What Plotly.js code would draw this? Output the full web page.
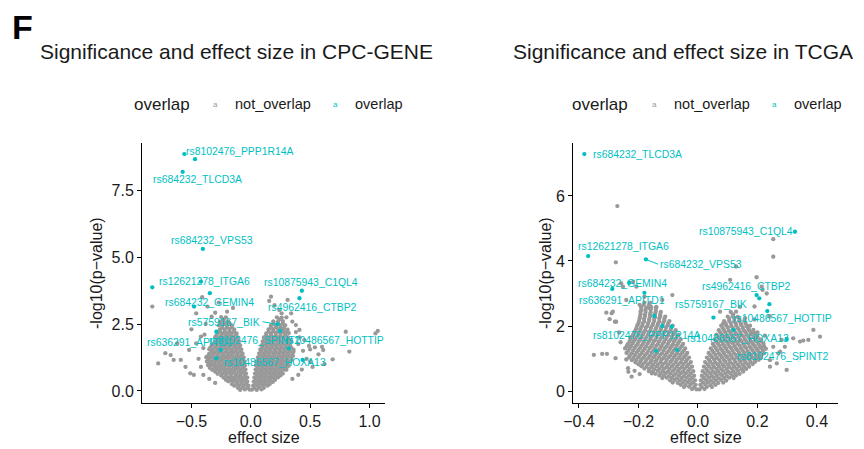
<!DOCTYPE html>
<html>
<head>
<meta charset="utf-8">
<script src="https://cdn.plot.ly/plotly-3.0.1.min.js"></script>
<style>
html,body{margin:0;padding:0;background:#fff;}
#chart{width:864px;height:449px;}
</style>
</head>
<body>
<div id="chart"></div>
<script>
// ---------------- DATA ----------------
// CPC-GENE: not_overlap SNPs [effect size, -log10 p]
const cpcGrey = [
[-0.01,0.05],[-0.05,0.06],[-0.09,0.04],
[-0.02,0.2],[-0.06,0.21],[-0.10,0.19],[-0.14,0.2],
[-0.03,0.35],[-0.07,0.36],[-0.11,0.34],[-0.15,0.35],[-0.19,0.36],
[-0.03,0.5],[-0.07,0.5],[-0.11,0.51],[-0.15,0.49],[-0.19,0.5],[-0.23,0.5],
[-0.04,0.65],[-0.08,0.66],[-0.12,0.64],[-0.16,0.65],[-0.20,0.66],[-0.24,0.65],[-0.28,0.64],
[-0.045,0.8],[-0.085,0.8],[-0.125,0.81],[-0.165,0.79],[-0.205,0.8],[-0.245,0.81],[-0.285,0.8],[-0.325,0.79],
[-0.05,0.95],[-0.09,0.96],[-0.13,0.94],[-0.17,0.95],[-0.21,0.96],[-0.25,0.95],[-0.29,0.94],[-0.33,0.95],[-0.36,0.96],
[-0.055,1.1],[-0.095,1.1],[-0.135,1.11],[-0.175,1.09],[-0.215,1.1],[-0.255,1.11],[-0.295,1.1],[-0.335,1.09],[-0.37,1.1],
[-0.06,1.25],[-0.10,1.26],[-0.14,1.24],[-0.18,1.25],[-0.22,1.26],[-0.26,1.25],[-0.30,1.24],[-0.34,1.25],[-0.375,1.26],
[-0.07,1.4],[-0.11,1.4],[-0.15,1.41],[-0.19,1.39],[-0.23,1.4],[-0.27,1.41],[-0.31,1.4],[-0.35,1.39],
[-0.08,1.55],[-0.12,1.56],[-0.16,1.54],[-0.20,1.55],[-0.24,1.56],[-0.28,1.55],[-0.32,1.54],[-0.35,1.56],
[-0.09,1.7],[-0.13,1.7],[-0.17,1.71],[-0.21,1.69],[-0.25,1.7],[-0.29,1.71],[-0.33,1.7],
[-0.10,1.85],[-0.14,1.86],[-0.18,1.84],[-0.22,1.85],[-0.26,1.86],[-0.30,1.85],
[-0.11,2.0],[-0.15,2.0],[-0.19,2.01],[-0.23,1.99],[-0.27,2.0],[-0.30,2.01],
[-0.12,2.15],[-0.16,2.16],[-0.20,2.14],[-0.24,2.15],[-0.28,2.16],
[-0.14,2.3],[-0.18,2.31],[-0.22,2.29],[-0.26,2.3],
[-0.16,2.45],[-0.20,2.46],[-0.24,2.44],[-0.27,2.45],
[-0.19,2.6],[-0.23,2.61],[-0.26,2.59],
[-0.21,2.75],[-0.25,2.76],
[0.01,0.05],[0.05,0.04],[0.09,0.06],
[0.02,0.2],[0.06,0.19],[0.10,0.21],[0.14,0.2],
[0.025,0.35],[0.065,0.34],[0.105,0.36],[0.145,0.35],[0.185,0.34],
[0.03,0.5],[0.07,0.49],[0.11,0.51],[0.15,0.5],[0.19,0.49],[0.23,0.51],
[0.035,0.65],[0.075,0.64],[0.115,0.66],[0.155,0.65],[0.195,0.64],[0.235,0.66],[0.27,0.65],
[0.04,0.8],[0.08,0.79],[0.12,0.81],[0.16,0.8],[0.20,0.79],[0.24,0.81],[0.28,0.8],[0.30,0.79],
[0.045,0.95],[0.085,0.94],[0.125,0.96],[0.165,0.95],[0.205,0.94],[0.245,0.96],[0.285,0.95],[0.32,0.94],
[0.05,1.1],[0.09,1.09],[0.13,1.11],[0.17,1.1],[0.21,1.09],[0.25,1.11],[0.29,1.1],[0.33,1.09],
[0.06,1.25],[0.10,1.24],[0.14,1.26],[0.18,1.25],[0.22,1.24],[0.26,1.26],[0.30,1.25],[0.34,1.24],
[0.07,1.4],[0.11,1.39],[0.15,1.41],[0.19,1.4],[0.23,1.39],[0.27,1.41],[0.31,1.4],[0.35,1.39],
[0.08,1.55],[0.12,1.54],[0.16,1.56],[0.20,1.55],[0.24,1.54],[0.28,1.56],[0.32,1.55],[0.36,1.54],
[0.09,1.7],[0.13,1.69],[0.17,1.71],[0.21,1.7],[0.25,1.69],[0.29,1.71],[0.33,1.7],
[0.10,1.85],[0.14,1.84],[0.18,1.86],[0.22,1.85],[0.26,1.84],[0.30,1.86],[0.34,1.85],
[0.11,2.0],[0.15,1.99],[0.19,2.01],[0.23,2.0],[0.27,1.99],[0.31,2.01],
[0.13,2.15],[0.17,2.14],[0.21,2.16],[0.25,2.15],[0.29,2.14],[0.32,2.16],
[0.15,2.3],[0.19,2.29],[0.23,2.31],[0.27,2.3],[0.31,2.29],
[0.17,2.45],[0.21,2.44],[0.25,2.46],[0.29,2.45],
[0.19,2.6],[0.23,2.59],[0.27,2.61],
[0.22,2.75],[0.26,2.74],
[-0.83,3.15],[-0.78,1.03],[-0.72,1.41],[-0.675,1.34],[-0.65,1.16],[-0.59,1.16],[-0.51,0.66],[-0.48,0.6],
[-0.41,3.5],[-0.46,2.9],[-0.365,3.15],[-0.33,2.77],[-0.30,2.92],[-0.2,2.96],[-0.24,2.59],[-0.42,2.03],
[-0.46,1.78],[-0.52,1.53],[-0.62,1.78],[-0.44,1.2],[-0.42,0.9],[-0.55,0.9],[-0.40,0.6],[-0.35,0.45],
[-0.3,0.3],[-0.5,2.3],[-0.38,2.5],[-0.15,3.1],[-0.27,3.3],[-0.4,1.6],[-0.39,2.1],
[0.80,2.21],[0.83,1.47],[1.07,2.24],[1.05,2.15],[0.60,1.65],[0.69,1.18],[0.62,1.0],[0.54,1.63],
[0.57,1.37],[0.49,1.68],[0.61,1.53],[0.31,3.4],[0.155,3.36],[0.41,2.0],[0.38,2.46],[0.35,2.59],
[0.41,2.28],[0.34,2.9],[0.24,3.02],[0.17,3.52],[0.2,3.2],[0.45,1.9],[0.47,1.2],[0.5,1.1],
[0.43,0.8],[0.4,0.6],[0.35,0.45],[0.52,0.9],[0.26,2.9],[0.3,2.75],[0.38,2.2],[0.44,1.5],[0.4,1.75],[0.5,1.55]
];
// CPC-GENE: further not_overlap SNPs filling the dense core
const cpcGreyCore = [
[-0.03,0.12],[-0.07,0.13],[-0.11,0.12],
[-0.04,0.27],[-0.08,0.28],[-0.12,0.27],[-0.16,0.26],
[-0.05,0.42],[-0.09,0.43],[-0.13,0.42],[-0.17,0.41],[-0.21,0.42],
[-0.05,0.57],[-0.09,0.58],[-0.13,0.57],[-0.17,0.56],[-0.21,0.57],[-0.25,0.58],
[-0.06,0.72],[-0.10,0.73],[-0.14,0.72],[-0.18,0.71],[-0.22,0.72],[-0.26,0.73],[-0.30,0.72],
[-0.065,0.87],[-0.105,0.88],[-0.145,0.87],[-0.185,0.86],[-0.225,0.87],[-0.265,0.88],[-0.305,0.87],[-0.345,0.86],
[-0.07,1.02],[-0.11,1.03],[-0.15,1.02],[-0.19,1.01],[-0.23,1.02],[-0.27,1.03],[-0.31,1.02],[-0.35,1.01],
[-0.075,1.17],[-0.115,1.18],[-0.155,1.17],[-0.195,1.16],[-0.235,1.17],[-0.275,1.18],[-0.315,1.17],[-0.355,1.16],
[-0.08,1.32],[-0.12,1.33],[-0.16,1.32],[-0.20,1.31],[-0.24,1.32],[-0.28,1.33],[-0.32,1.32],[-0.36,1.31],
[-0.09,1.47],[-0.13,1.48],[-0.17,1.47],[-0.21,1.46],[-0.25,1.47],[-0.29,1.48],[-0.33,1.47],
[-0.10,1.62],[-0.14,1.63],[-0.18,1.62],[-0.22,1.61],[-0.26,1.62],[-0.30,1.63],[-0.34,1.62],
[-0.11,1.77],[-0.15,1.78],[-0.19,1.77],[-0.23,1.76],[-0.27,1.77],[-0.31,1.78],
[-0.12,1.92],[-0.16,1.93],[-0.20,1.92],[-0.24,1.91],[-0.28,1.92],
[-0.13,2.07],[-0.17,2.08],[-0.21,2.07],[-0.25,2.06],[-0.29,2.07],
[-0.14,2.22],[-0.18,2.23],[-0.22,2.22],[-0.26,2.21],
[-0.16,2.37],[-0.20,2.38],[-0.24,2.37],
[-0.18,2.52],[-0.22,2.53],[-0.25,2.52],
[-0.23,2.67],
[0.03,0.12],[0.07,0.13],[0.11,0.12],
[0.04,0.27],[0.08,0.28],[0.12,0.27],[0.16,0.26],
[0.045,0.42],[0.085,0.43],[0.125,0.42],[0.165,0.41],[0.205,0.42],
[0.05,0.57],[0.09,0.58],[0.13,0.57],[0.17,0.56],[0.21,0.57],[0.25,0.58],
[0.055,0.72],[0.095,0.73],[0.135,0.72],[0.175,0.71],[0.215,0.72],[0.255,0.73],
[0.06,0.87],[0.10,0.88],[0.14,0.87],[0.18,0.86],[0.22,0.87],[0.26,0.88],[0.30,0.87],
[0.065,1.02],[0.105,1.03],[0.145,1.02],[0.185,1.01],[0.225,1.02],[0.265,1.03],[0.305,1.02],
[0.07,1.17],[0.11,1.18],[0.15,1.17],[0.19,1.16],[0.23,1.17],[0.27,1.18],[0.31,1.17],[0.345,1.16],
[0.08,1.32],[0.12,1.33],[0.16,1.32],[0.20,1.31],[0.24,1.32],[0.28,1.33],[0.32,1.32],[0.355,1.31],
[0.09,1.47],[0.13,1.48],[0.17,1.47],[0.21,1.46],[0.25,1.47],[0.29,1.48],[0.33,1.47],[0.36,1.46],
[0.10,1.62],[0.14,1.63],[0.18,1.62],[0.22,1.61],[0.26,1.62],[0.30,1.63],[0.34,1.62],
[0.11,1.77],[0.15,1.78],[0.19,1.77],[0.23,1.76],[0.27,1.77],[0.31,1.78],
[0.12,1.92],[0.16,1.93],[0.20,1.92],[0.24,1.91],[0.28,1.92],[0.32,1.93],
[0.13,2.07],[0.17,2.08],[0.21,2.07],[0.25,2.06],[0.29,2.07],
[0.15,2.22],[0.19,2.23],[0.23,2.22],[0.27,2.21],[0.30,2.22],
[0.17,2.37],[0.21,2.38],[0.25,2.37],[0.28,2.36],
[0.19,2.52],[0.23,2.53],[0.27,2.52],
[0.24,2.67]
];
// CPC-GENE: overlap SNPs
const cpcOverlap = [
[-0.56,8.84],[-0.47,8.65],[-0.574,8.18],[-0.404,5.30],[-0.83,3.87],[-0.345,3.65],[-0.42,4.08],
[-0.478,3.15],[0.225,2.49],[-0.29,2.21],[-0.254,1.53],[-0.29,1.22],[0.248,2.24],[0.32,1.59],
[0.437,1.16],[0.43,3.74],[0.41,3.46]
];
const cpcLabels = ['rs8102476_PPP1R14A','rs684232_TLCD3A','rs684232_VPS53','rs12621278_ITGA6',
  'rs684232_GEMIN4','rs5759167_BIK','rs636291_APITD1','rs8102476_SPINT2','rs10486567_HOTTIP',
  'rs10486567_HOXA13','rs10875943_C1QL4','rs4962416_CTBP2'];

// TCGA: not_overlap SNPs
const tcgaGrey = [
[-0.005,0.05],[-0.02,0.06],
[-0.008,0.19],[-0.025,0.2],[-0.042,0.18],[-0.058,0.19],
[-0.01,0.33],[-0.027,0.34],[-0.044,0.32],[-0.061,0.33],[-0.078,0.34],[-0.094,0.33],
[-0.013,0.47],[-0.03,0.48],[-0.047,0.46],[-0.064,0.47],[-0.081,0.48],[-0.098,0.46],[-0.115,0.47],[-0.13,0.48],
[-0.016,0.61],[-0.033,0.62],[-0.05,0.6],[-0.067,0.61],[-0.084,0.62],[-0.101,0.6],[-0.118,0.61],[-0.135,0.62],[-0.152,0.6],[-0.165,0.61],
[-0.02,0.75],[-0.037,0.76],[-0.054,0.74],[-0.071,0.75],[-0.088,0.76],[-0.105,0.74],[-0.122,0.75],[-0.139,0.76],[-0.156,0.74],[-0.173,0.75],[-0.19,0.76],
[-0.024,0.89],[-0.041,0.9],[-0.058,0.88],[-0.075,0.89],[-0.092,0.9],[-0.109,0.88],[-0.126,0.89],[-0.143,0.9],[-0.16,0.88],[-0.177,0.89],[-0.194,0.9],[-0.21,0.88],
[-0.03,1.03],[-0.047,1.04],[-0.064,1.02],[-0.081,1.03],[-0.098,1.04],[-0.115,1.02],[-0.132,1.03],[-0.149,1.04],[-0.166,1.02],[-0.183,1.03],[-0.2,1.04],[-0.217,1.02],[-0.232,1.03],
[-0.036,1.17],[-0.053,1.18],[-0.07,1.16],[-0.087,1.17],[-0.104,1.18],[-0.121,1.16],[-0.138,1.17],[-0.155,1.18],[-0.172,1.16],[-0.189,1.17],[-0.206,1.18],[-0.223,1.16],[-0.24,1.17],
[-0.043,1.31],[-0.06,1.32],[-0.077,1.3],[-0.094,1.31],[-0.111,1.32],[-0.128,1.3],[-0.145,1.31],[-0.162,1.32],[-0.179,1.3],[-0.196,1.31],[-0.213,1.32],[-0.23,1.3],[-0.245,1.31],
[-0.05,1.45],[-0.067,1.46],[-0.084,1.44],[-0.101,1.45],[-0.118,1.46],[-0.135,1.44],[-0.152,1.45],[-0.169,1.46],[-0.186,1.44],[-0.203,1.45],[-0.22,1.46],[-0.236,1.44],
[-0.058,1.59],[-0.075,1.6],[-0.092,1.58],[-0.109,1.59],[-0.126,1.6],[-0.143,1.58],[-0.16,1.59],[-0.177,1.6],[-0.194,1.58],[-0.211,1.59],[-0.227,1.6],
[-0.066,1.73],[-0.083,1.74],[-0.1,1.72],[-0.117,1.73],[-0.134,1.74],[-0.151,1.72],[-0.168,1.73],[-0.185,1.74],[-0.202,1.72],[-0.218,1.73],
[-0.075,1.87],[-0.092,1.88],[-0.109,1.86],[-0.126,1.87],[-0.143,1.88],[-0.16,1.86],[-0.177,1.87],[-0.194,1.88],[-0.21,1.86],
[-0.085,2.01],[-0.102,2.02],[-0.119,2.0],[-0.136,2.01],[-0.153,2.02],[-0.17,2.0],[-0.187,2.01],[-0.204,2.02],
[-0.096,2.15],[-0.113,2.16],[-0.13,2.14],[-0.147,2.15],[-0.164,2.16],[-0.181,2.14],[-0.198,2.15],
[-0.11,2.29],[-0.127,2.3],[-0.144,2.28],[-0.161,2.29],[-0.178,2.3],[-0.195,2.28],
[-0.125,2.43],[-0.142,2.44],[-0.159,2.42],[-0.176,2.43],[-0.193,2.44],
[-0.14,2.57],[-0.157,2.58],[-0.174,2.56],[-0.191,2.57],
[-0.16,2.71],[-0.18,2.72],
[0.005,0.05],[0.022,0.06],
[0.008,0.19],[0.025,0.2],[0.042,0.18],[0.059,0.19],
[0.01,0.33],[0.027,0.34],[0.044,0.32],[0.061,0.33],[0.078,0.34],[0.095,0.32],
[0.013,0.47],[0.03,0.48],[0.047,0.46],[0.064,0.47],[0.081,0.48],[0.098,0.46],[0.115,0.47],[0.128,0.48],
[0.016,0.61],[0.033,0.62],[0.05,0.6],[0.067,0.61],[0.084,0.62],[0.101,0.6],[0.118,0.61],[0.135,0.62],[0.152,0.6],
[0.02,0.75],[0.037,0.76],[0.054,0.74],[0.071,0.75],[0.088,0.76],[0.105,0.74],[0.122,0.75],[0.139,0.76],[0.156,0.74],[0.172,0.75],
[0.024,0.89],[0.041,0.9],[0.058,0.88],[0.075,0.89],[0.092,0.9],[0.109,0.88],[0.126,0.89],[0.143,0.9],[0.16,0.88],[0.177,0.89],[0.192,0.9],
[0.03,1.03],[0.047,1.04],[0.064,1.02],[0.081,1.03],[0.098,1.04],[0.115,1.02],[0.132,1.03],[0.149,1.04],[0.166,1.02],[0.183,1.03],[0.2,1.04],[0.212,1.02],
[0.036,1.17],[0.053,1.18],[0.07,1.16],[0.087,1.17],[0.104,1.18],[0.121,1.16],[0.138,1.17],[0.155,1.18],[0.172,1.16],[0.189,1.17],[0.206,1.18],[0.222,1.16],
[0.043,1.31],[0.06,1.32],[0.077,1.3],[0.094,1.31],[0.111,1.32],[0.128,1.3],[0.145,1.31],[0.162,1.32],[0.179,1.3],[0.196,1.31],[0.213,1.32],[0.228,1.3],
[0.05,1.45],[0.067,1.46],[0.084,1.44],[0.101,1.45],[0.118,1.46],[0.135,1.44],[0.152,1.45],[0.169,1.46],[0.186,1.44],[0.203,1.45],[0.22,1.46],
[0.056,1.59],[0.073,1.6],[0.09,1.58],[0.107,1.59],[0.124,1.6],[0.141,1.58],[0.158,1.59],[0.175,1.6],[0.192,1.58],[0.209,1.59],
[0.062,1.73],[0.079,1.74],[0.096,1.72],[0.113,1.73],[0.13,1.74],[0.147,1.72],[0.164,1.73],[0.181,1.74],[0.198,1.72],
[0.07,1.87],[0.087,1.88],[0.104,1.86],[0.121,1.87],[0.138,1.88],[0.155,1.86],[0.172,1.87],[0.186,1.88],
[0.078,2.01],[0.095,2.02],[0.112,2.0],[0.129,2.01],[0.146,2.02],[0.163,2.0],[0.175,2.01],
[0.088,2.15],[0.105,2.16],[0.122,2.14],[0.139,2.15],[0.156,2.16],
[0.1,2.29],[0.117,2.3],[0.134,2.28],
[0.11,2.43],[0.128,2.44],
[-0.271,5.69],[0.253,4.67],[0.253,4.13],[-0.276,3.96],[0.128,3.83],[0.197,3.5],[0.108,3.42],[-0.086,2.95],
[-0.308,2.41],[-0.286,2.44],[-0.297,2.21],[-0.275,2.13],[-0.35,1.11],[-0.322,1.14],[-0.306,1.14],[-0.277,1.01],
[-0.241,0.97],[-0.235,0.70],[-0.213,0.62],[-0.196,0.52],[-0.207,3.21],[-0.218,3.36],[-0.258,3.31],[-0.252,3.21],
[-0.241,2.8],[-0.196,2.65],[-0.162,2.54],[-0.14,2.59],[-0.29,2.39],[-0.279,2.13],[-0.234,0.59],[-0.223,0.44],
[0.217,3.11],[0.085,2.08],[0.169,1.93],[0.388,1.88],[0.41,1.67],[0.371,1.57],[0.343,1.52],[0.32,1.62],
[0.281,1.57],[0.253,1.36],[0.27,1.16],[0.298,0.65],[0.242,0.95],[0.208,1.36],[0.074,2.44],[0.158,2.24],
[0.141,2.59],[0.214,3.21],[0.231,3.0],[0.354,1.55],[0.292,1.36],[0.276,1.21],[0.265,0.85],[0.242,0.75],
[-0.18,2.9],[-0.12,2.8],[0.19,2.2],[0.2,1.8],[0.225,1.7],[-0.26,1.5],[-0.265,1.8],[0.19,2.6],[0.24,2.3]
];
// TCGA: further not_overlap SNPs filling the dense core
const tcgaGreyCore = [
[-0.013,0.12],[-0.03,0.13],[-0.047,0.12],
[-0.017,0.26],[-0.034,0.27],[-0.051,0.26],[-0.068,0.25],[-0.085,0.26],
[-0.02,0.40],[-0.037,0.41],[-0.054,0.40],[-0.071,0.39],[-0.088,0.40],[-0.105,0.41],[-0.12,0.40],
[-0.024,0.54],[-0.041,0.55],[-0.058,0.54],[-0.075,0.53],[-0.092,0.54],[-0.109,0.55],[-0.126,0.54],[-0.143,0.53],[-0.155,0.54],
[-0.028,0.68],[-0.045,0.69],[-0.062,0.68],[-0.079,0.67],[-0.096,0.68],[-0.113,0.69],[-0.13,0.68],[-0.147,0.67],[-0.164,0.68],[-0.18,0.69],
[-0.032,0.82],[-0.049,0.83],[-0.066,0.82],[-0.083,0.81],[-0.1,0.82],[-0.117,0.83],[-0.134,0.82],[-0.151,0.81],[-0.168,0.82],[-0.185,0.83],[-0.2,0.82],
[-0.037,0.96],[-0.054,0.97],[-0.071,0.96],[-0.088,0.95],[-0.105,0.96],[-0.122,0.97],[-0.139,0.96],[-0.156,0.95],[-0.173,0.96],[-0.19,0.97],[-0.207,0.96],[-0.222,0.95],
[-0.042,1.10],[-0.059,1.11],[-0.076,1.10],[-0.093,1.09],[-0.11,1.10],[-0.127,1.11],[-0.144,1.10],[-0.161,1.09],[-0.178,1.10],[-0.195,1.11],[-0.212,1.10],[-0.229,1.09],
[-0.048,1.24],[-0.065,1.25],[-0.082,1.24],[-0.099,1.23],[-0.116,1.24],[-0.133,1.25],[-0.15,1.24],[-0.167,1.23],[-0.184,1.24],[-0.201,1.25],[-0.218,1.24],[-0.235,1.23],
[-0.055,1.38],[-0.072,1.39],[-0.089,1.38],[-0.106,1.37],[-0.123,1.38],[-0.14,1.39],[-0.157,1.38],[-0.174,1.37],[-0.191,1.38],[-0.208,1.39],[-0.225,1.38],[-0.24,1.37],
[-0.063,1.52],[-0.08,1.53],[-0.097,1.52],[-0.114,1.51],[-0.131,1.52],[-0.148,1.53],[-0.165,1.52],[-0.182,1.51],[-0.199,1.52],[-0.216,1.53],[-0.23,1.52],
[-0.071,1.66],[-0.088,1.67],[-0.105,1.66],[-0.122,1.65],[-0.139,1.66],[-0.156,1.67],[-0.173,1.66],[-0.19,1.65],[-0.207,1.66],[-0.222,1.67],
[-0.08,1.80],[-0.097,1.81],[-0.114,1.80],[-0.131,1.79],[-0.148,1.80],[-0.165,1.81],[-0.182,1.80],[-0.199,1.79],[-0.214,1.80],
[-0.09,1.94],[-0.107,1.95],[-0.124,1.94],[-0.141,1.93],[-0.158,1.94],[-0.175,1.95],[-0.192,1.94],[-0.207,1.93],
[-0.1,2.08],[-0.117,2.09],[-0.134,2.08],[-0.151,2.07],[-0.168,2.08],[-0.185,2.09],[-0.2,2.08],
[-0.113,2.22],[-0.13,2.23],[-0.147,2.22],[-0.164,2.21],[-0.181,2.22],[-0.196,2.23],
[-0.127,2.36],[-0.144,2.37],[-0.161,2.36],[-0.178,2.35],[-0.193,2.36],
[-0.142,2.50],[-0.159,2.51],[-0.176,2.50],[-0.19,2.49],
[-0.165,2.64],[-0.182,2.65],
[0.013,0.12],[0.03,0.13],[0.047,0.12],
[0.017,0.26],[0.034,0.27],[0.051,0.26],[0.068,0.25],[0.085,0.26],
[0.02,0.40],[0.037,0.41],[0.054,0.40],[0.071,0.39],[0.088,0.40],[0.105,0.41],[0.12,0.40],
[0.024,0.54],[0.041,0.55],[0.058,0.54],[0.075,0.53],[0.092,0.54],[0.109,0.55],[0.126,0.54],[0.14,0.53],
[0.028,0.68],[0.045,0.69],[0.062,0.68],[0.079,0.67],[0.096,0.68],[0.113,0.69],[0.13,0.68],[0.147,0.67],[0.162,0.68],
[0.032,0.82],[0.049,0.83],[0.066,0.82],[0.083,0.81],[0.1,0.82],[0.117,0.83],[0.134,0.82],[0.151,0.81],[0.168,0.82],[0.184,0.83],
[0.037,0.96],[0.054,0.97],[0.071,0.96],[0.088,0.95],[0.105,0.96],[0.122,0.97],[0.139,0.96],[0.156,0.95],[0.173,0.96],[0.19,0.97],[0.204,0.96],
[0.042,1.10],[0.059,1.11],[0.076,1.10],[0.093,1.09],[0.11,1.10],[0.127,1.11],[0.144,1.10],[0.161,1.09],[0.178,1.10],[0.195,1.11],[0.212,1.10],
[0.048,1.24],[0.065,1.25],[0.082,1.24],[0.099,1.23],[0.116,1.24],[0.133,1.25],[0.15,1.24],[0.167,1.23],[0.184,1.24],[0.201,1.25],[0.218,1.24],
[0.055,1.38],[0.072,1.39],[0.089,1.38],[0.106,1.37],[0.123,1.38],[0.14,1.39],[0.157,1.38],[0.174,1.37],[0.191,1.38],[0.208,1.39],[0.222,1.38],
[0.061,1.52],[0.078,1.53],[0.095,1.52],[0.112,1.51],[0.129,1.52],[0.146,1.53],[0.163,1.52],[0.18,1.51],[0.197,1.52],[0.212,1.53],
[0.068,1.66],[0.085,1.67],[0.102,1.66],[0.119,1.65],[0.136,1.66],[0.153,1.67],[0.17,1.66],[0.187,1.65],[0.2,1.66],
[0.075,1.80],[0.092,1.81],[0.109,1.80],[0.126,1.79],[0.143,1.80],[0.16,1.81],[0.177,1.80],[0.19,1.79],
[0.083,1.94],[0.1,1.95],[0.117,1.94],[0.134,1.93],[0.151,1.94],[0.168,1.95],
[0.093,2.08],[0.11,2.09],[0.127,2.08],[0.144,2.07],[0.16,2.08],
[0.105,2.22],[0.122,2.23],[0.139,2.22],
[0.118,2.36]
];
// TCGA: overlap SNPs
const tcgaOverlap = [
[-0.382,7.29],[0.326,4.90],[-0.369,4.15],[-0.175,4.05],[-0.288,3.14],[-0.231,3.33],[-0.18,3.02],
[-0.147,2.31],[0.197,2.95],[0.206,2.85],[0.24,2.67],[0.233,2.46],[0.052,2.26],[0.119,1.88],
[-0.12,2.0],[-0.088,1.98],[-0.141,1.23],[-0.07,1.26],[0.298,1.6]
];
const tcgaLabels = ['rs684232_TLCD3A','rs10875943_C1QL4','rs12621278_ITGA6','rs684232_VPS53',
  'rs684232_GEMIN4','rs636291_APITD1','rs4962416_CTBP2','rs5759167_BIK','rs10486567_HOTTIP',
  'rs8102476_PPP1R14A','rs10486567_HOXA13','rs8102476_SPINT2'];

const cpcXTicks = [-0.5, 0.0, 0.5, 1.0];
const cpcYTicks = [0.0, 2.5, 5.0, 7.5];
const tcgaXTicks = [-0.4, -0.2, 0.0, 0.2, 0.4];
const tcgaYTicks = [0, 2, 4, 6];
const legendItems = ['not_overlap', 'overlap'];

// ---------------- STYLE / LAYOUT ----------------
const FONT = 'Liberation Sans, Arial, Helvetica, sans-serif';
const GREY = '#999999';
const TEAL = '#00BFC4';
const W = 864, H = 449;
const px = v => v / W;
const py = v => 1 - v / H;

// label positions (layout only), same order as label arrays
const cpcLabelPos = [[-0.091,8.93],[-0.451,7.90],[-0.324,5.63],[-0.394,4.08],[-0.345,3.29],
  [-0.223,2.56],[-0.516,1.80],[0.0286,1.90],[0.708,1.90],[0.204,1.056],[0.505,4.04],[0.52,3.12]];
const tcgaLabelPos = [[-0.2044,7.29],[0.1624,4.90],[-0.251,4.44],[0.0108,3.90],[-0.2528,3.31],
  [-0.2565,2.77],[0.1637,3.23],[0.0447,2.67],[0.285,2.24],[-0.1708,1.72],[0.1345,1.62],[0.2824,1.055]];

function pts(arr, xa, ya, color, name) {
  return {
    type: 'scatter', mode: 'markers', name: name,
    x: arr.map(p => p[0]), y: arr.map(p => p[1]),
    xaxis: xa, yaxis: ya,
    marker: {color: color, size: 4.3, line: {width: 0}},
    hoverinfo: 'skip', showlegend: false
  };
}

const traces = [
  pts(cpcGrey.concat(cpcGreyCore), 'x', 'y', GREY, legendItems[0]),
  pts(cpcOverlap, 'x', 'y', TEAL, legendItems[1]),
  pts(tcgaGrey.concat(tcgaGreyCore), 'x2', 'y2', GREY, legendItems[0]),
  pts(tcgaOverlap, 'x2', 'y2', TEAL, legendItems[1])
];

function axis(domain, range, tickvals, fmt, anchor) {
  return {
    domain: domain, range: range, anchor: anchor,
    showline: true, linecolor: '#000', linewidth: 1,
    ticks: 'outside', ticklen: 4, tickwidth: 1, tickcolor: '#000',
    tickvals: tickvals, tickformat: fmt,
    tickfont: {family: FONT, size: 16, color: '#1a1a1a'},
    showgrid: false, zeroline: false, fixedrange: true
  };
}

const yDom = [(H - 403) / H, (H - 143) / H];

const annotations = [];
function addText(text, x, y, size, opts) {
  annotations.push(Object.assign({
    text: text, x: px(x), y: py(y), xref: 'paper', yref: 'paper',
    showarrow: false, xanchor: 'left', yanchor: 'middle',
    font: {family: FONT, size: size, color: '#1a1a1a'}
  }, opts || {}));
}
addText('<b>F</b>', 10, 27, 34, {font: {family: FONT, size: 34, color: '#000'}});
addText('Significance and effect size in CPC-GENE', 38, 52, 21);
addText('Significance and effect size in TCGA', 511, 52, 21);
// legends
[[132, 211, 233, 331, 353], [570, 650, 672, 770, 792]].forEach(L => {
  addText('overlap', L[0], 104, 17);
  addText('a', L[1], 104, 8, {font: {family: FONT, size: 8, color: GREY}});
  addText(legendItems[0], L[2], 104, 14.5);
  addText('a', L[3], 104, 8, {font: {family: FONT, size: 8, color: TEAL}});
  addText(legendItems[1], L[4], 104, 14.5);
});
// axis titles
addText('effect size', 263.5, 437, 16, {xanchor: 'center'});
addText('effect size', 705.5, 437, 16, {xanchor: 'center'});
addText('-log10(p\u2212value)', 96, 273, 16, {xanchor: 'center', textangle: -90});
addText('-log10(p\u2212value)', 545, 273, 16, {xanchor: 'center', textangle: -90});

// point labels
cpcLabels.forEach((t, i) => annotations.push({
  text: t, x: cpcLabelPos[i][0], y: cpcLabelPos[i][1], xref: 'x', yref: 'y',
  showarrow: false, xanchor: 'center', yanchor: 'middle',
  font: {family: FONT, size: 10.4, color: TEAL}
}));
tcgaLabels.forEach((t, i) => annotations.push({
  text: t, x: tcgaLabelPos[i][0], y: tcgaLabelPos[i][1], xref: 'x2', yref: 'y2',
  showarrow: false, xanchor: 'center', yanchor: 'middle',
  font: {family: FONT, size: 10.4, color: TEAL}
}));

const shapes = [
  {type: 'line', xref: 'x', yref: 'y', x0: 0.10, y0: 2.586, x1: 0.222, y1: 2.49, line: {color: TEAL, width: 1}},
  {type: 'line', xref: 'x2', yref: 'y2', x0: -0.175, y0: 4.05, x1: -0.134, y1: 3.90, line: {color: TEAL, width: 1}}
];

const layout = {
  width: W, height: H,
  margin: {l: 0, r: 0, t: 0, b: 0},
  paper_bgcolor: '#fff', plot_bgcolor: '#fff',
  showlegend: false,
  xaxis: axis([142 / W, 385 / W], [-0.9166, 1.1306], cpcXTicks, '.1f', 'y'),
  yaxis: axis(yDom, [-0.448, 9.254], cpcYTicks, '.1f', 'x'),
  xaxis2: axis([573 / W, 838 / W], [-0.420, 0.4706], tcgaXTicks, '.1f', 'y2'),
  yaxis2: axis(yDom, [-0.369, 7.63], tcgaYTicks, 'd', 'x2'),
  annotations: annotations,
  shapes: shapes,
  font: {family: FONT}
};

Plotly.newPlot('chart', traces, layout, {staticPlot: true, displayModeBar: false});
</script>
</body>
</html>
